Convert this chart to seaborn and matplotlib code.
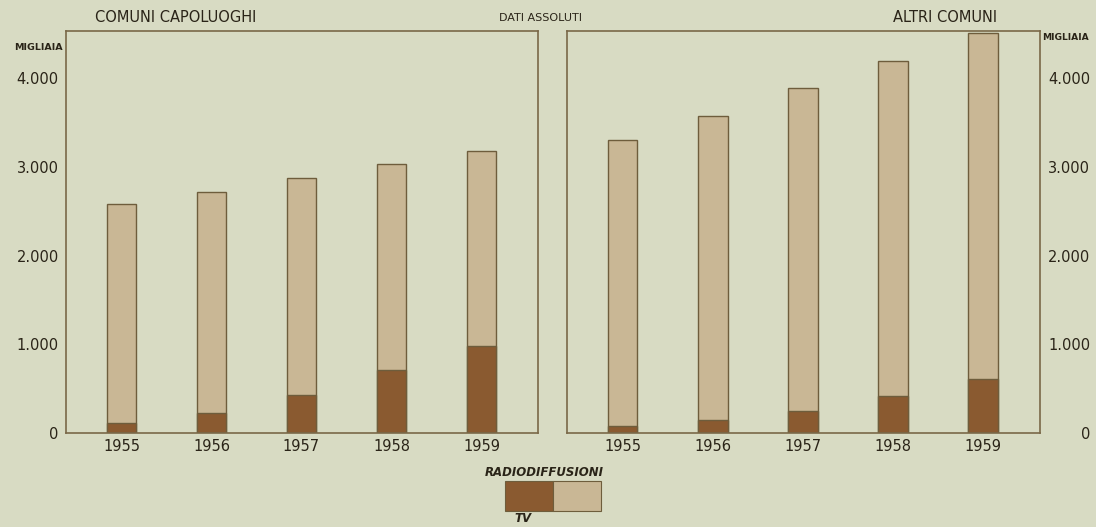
import pandas as pd
import seaborn as sns
import matplotlib.pyplot as plt
from matplotlib.patches import Rectangle

# Data (thousands of licences)
years = ["1955", "1956", "1957", "1958", "1959"]
capoluoghi_radio = [2580, 2720, 2870, 3030, 3180]
capoluoghi_tv = [115, 225, 430, 710, 985]
altri_radio = [3300, 3575, 3885, 4190, 4505]
altri_tv = [80, 150, 250, 420, 610]
yticks = [0, 1000, 2000, 3000, 4000]
ytick_labels = ["0", "1.000", "2.000", "3.000", "4.000"]

bg = "#d8dbc3"
light = "#c9b795"
dark = "#8a5a30"
edge = "#6e5d3c"
frame = "#7a6848"
txt = "#2a2418"

sns.set_theme(style="white")
plt.rcParams["font.family"] = ["DejaVu Sans"]

fig = plt.figure(figsize=(10.96, 5.27), dpi=100, facecolor=bg)
ax1 = fig.add_axes([0.060, 0.178, 0.431, 0.763], facecolor=bg)
ax2 = fig.add_axes([0.517, 0.178, 0.432, 0.763], facecolor=bg)

panels = [
    (ax1, capoluoghi_radio, capoluoghi_tv),
    (ax2, altri_radio, altri_tv),
]

for ax, radio, tv in panels:
    df = pd.DataFrame({"anno": years, "radio": radio, "tv": tv})
    sns.barplot(data=df, x="anno", y="radio", color=light, width=0.33,
                edgecolor=edge, linewidth=1.0, saturation=1, ax=ax)
    sns.barplot(data=df, x="anno", y="tv", color=dark, width=0.33,
                edgecolor=edge, linewidth=1.0, saturation=1, ax=ax)
    ax.set_xlim(-0.62, 4.63)
    ax.set_ylim(0, 4530)
    ax.set_xlabel("")
    ax.set_ylabel("")
    ax.set_yticks(yticks)
    ax.set_yticklabels(ytick_labels)
    ax.tick_params(axis="both", length=0, labelsize=10.5, colors=txt)
    ax.tick_params(axis="x", pad=4)
    for s in ax.spines.values():
        s.set_color(frame)
        s.set_linewidth(1.2)

# left panel: labels on left
ax1.tick_params(axis="y", pad=5)

# right panel: labels on right, right aligned
ax2.yaxis.tick_right()
ax2.tick_params(axis="y", pad=36)
for lab in ax2.get_yticklabels():
    lab.set_horizontalalignment("right")

# headings
fig.text(0.087, 0.966, "COMUNI CAPOLUOGHI", fontsize=10.5, color=txt, va="center")
fig.text(0.455, 0.966, "DATI ASSOLUTI", fontsize=8, color=txt, va="center")
fig.text(0.815, 0.966, "ALTRI COMUNI", fontsize=10.5, color=txt, va="center")
fig.text(0.057, 0.909, "MIGLIAIA", fontsize=6.8, color=txt, va="center", ha="right",
         fontweight="bold")
fig.text(0.951, 0.928, "MIGLIAIA", fontsize=6.6, color=txt, va="center", ha="left",
         fontweight="bold")

# legend
fig.text(0.497, 0.104, "RADIODIFFUSIONI", fontsize=8.5, style="italic", color=txt,
         ha="center", va="center", fontweight="bold")
fig.patches.append(Rectangle((0.461, 0.030), 0.044, 0.057, transform=fig.transFigure,
                             facecolor=dark, edgecolor=edge, linewidth=0.8))
fig.patches.append(Rectangle((0.505, 0.030), 0.043, 0.057, transform=fig.transFigure,
                             facecolor=light, edgecolor=edge, linewidth=0.8))
fig.text(0.477, 0.004, "TV", fontsize=8.5, style="italic", color=txt,
         ha="center", va="bottom", fontweight="bold")

plt.savefig("out.png", dpi=100, facecolor=bg)
plt.close()
